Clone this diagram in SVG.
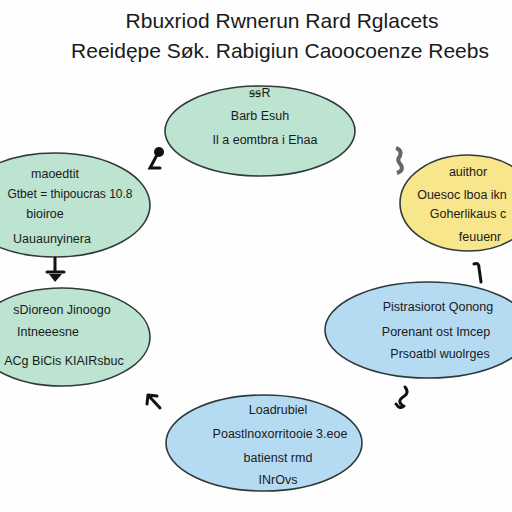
<svg xmlns="http://www.w3.org/2000/svg" width="512" height="512" viewBox="0 0 512 512">
<style>
.t{font-family:"Liberation Sans",Arial,sans-serif;fill:#1a1a1a;text-anchor:middle}
.h{font-size:21px}
.b{font-size:12.5px}
.n{stroke:#2f3a3a;stroke-width:1.6}
.g{fill:#bde3d1}.y{fill:#f8e68c}.u{fill:#b5dbf3}
.c{fill:none;stroke:#111;stroke-width:3;stroke-linecap:round}
</style>
<rect width="512" height="512" fill="#fefefe"/>
<text class="t h" x="282" y="28">Rbuxriod Rwnerun Rard Rglacets</text>
<text class="t h" x="280" y="58">Reeidępe Søk. Rabigiun Caoocoenze Reebs</text>
<g id="n1"><ellipse class="n g" cx="260" cy="131" rx="95" ry="45"/>
<text class="t b" x="260" y="97">ꞩꞩR</text>
<text class="t b" x="260" y="120">Barb Esuh</text>
<text class="t b" x="265" y="144">Il a eomtbra i Ehaa</text></g>
<g id="n2"><ellipse class="n g" cx="55" cy="205" rx="95" ry="52"/>
<text class="t b" x="55" y="178">maoedtit</text>
<text class="t b" x="70" y="198" style="font-size:12px">Gtbet = thipoucras 10.8</text>
<text class="t b" x="45" y="218">bioiroe</text>
<text class="t b" x="52" y="243">Uauaunyinera</text></g>
<g id="n3"><ellipse class="n y" cx="468" cy="203" rx="68" ry="48"/>
<text class="t b" x="468" y="176">auithor</text>
<text class="t b" x="462" y="199">Ouesoc lboa ikn</text>
<text class="t b" x="468" y="218">Goherlikaus c</text>
<text class="t b" x="480" y="241">feuuenr</text></g>
<g id="n4"><ellipse class="n g" cx="62" cy="337" rx="88" ry="49"/>
<text class="t b" x="62" y="314">sDioreon Jinoogo</text>
<text class="t b" x="48" y="336">Intneeesne</text>
<text class="t b" x="64" y="365">ACg BiCis KIAIRsbuc</text></g>
<g id="n5"><ellipse class="n u" cx="428" cy="330" rx="103" ry="48"/>
<text class="t b" x="438" y="311">Pistrasiorot Qonong</text>
<text class="t b" x="436" y="336">Porenant ost Imcep</text>
<text class="t b" x="440" y="358">Prsoatbl wuolrges</text></g>
<g id="n6"><ellipse class="n u" cx="264" cy="443" rx="98" ry="48"/>
<text class="t b" x="278" y="414">Loadrubiel</text>
<text class="t b" x="280" y="438">Poastlnoxorritooie 3.eoe</text>
<text class="t b" x="278" y="462">batienst rmd</text>
<text class="t b" x="278" y="484">INrOvs</text></g>
<g id="connectors">
<path class="c" d="M158 153 L150 168 L160 168"/><circle cx="159" cy="152" r="5" fill="#111"/>
<path d="M396 148 q6 2 4 8 q-4 4 1 9 q3 6 -4 8" fill="none" stroke="#666" stroke-width="4"/>
<path class="c" d="M474 264 q5 -2 5 4 l2 14"/>
<path class="c" d="M55 258 V272 M47 272 H64"/><path d="M49 274 H62 L55 282 Z" fill="#111"/>
<path class="c" d="M160 408 L148 395 M148 395 L147 404 M148 395 L157 396"/>
<path class="c" d="M405 387 q5 6 -2 10 q-6 4 -1 8 M396 404 q4 6 8 2"/>
</g>
</svg>
